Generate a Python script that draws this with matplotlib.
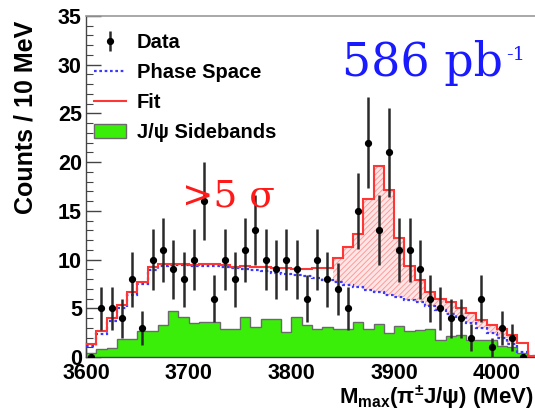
import numpy as np
import matplotlib
matplotlib.use("Agg")
import matplotlib.pyplot as plt
from matplotlib.patches import Patch
from matplotlib.lines import Line2D
from matplotlib.ticker import MultipleLocator

# ---- histogram contents (10 MeV bins starting at 3600 MeV) ----
bin_width = 10
data_counts = [0, 5, 5, 4, 8, 3, 10, 11, 9, 8,
               10, 16, 6, 10, 8, 11, 13, 10, 9, 10,
               9, 6, 10, 8, 7, 5, 15, 22, 13, 21,
               11, 11, 9, 6, 5, 4, 4, 2, 6, 1,
               3, 2, 0]
fit_curve = [1.3, 2.7, 4.0, 5.3, 6.7, 7.7, 9.2, 9.5, 9.5, 9.5,
             9.4, 9.5, 9.5, 9.4, 9.2, 9.3, 9.2, 9.2, 9.1, 9.1,
             9.0, 9.0, 9.1, 9.1, 10.2, 11.3, 12.6, 16.2, 19.6, 17.1,
             12.2, 9.3, 7.9, 6.7, 6.0, 5.6, 5.0, 4.5, 3.8, 3.3,
             2.9, 2.3, 1.4, 0.15]
phase_space = [1.1, 2.4, 3.7, 5.0, 6.4, 7.5, 8.9, 9.3, 9.4, 9.4,
               9.3, 9.3, 9.3, 9.2, 9.1, 9.0, 8.9, 8.8, 8.6, 8.5,
               8.4, 8.3, 8.1, 7.9, 7.7, 7.4, 7.2, 6.9, 6.7, 6.4,
               6.2, 5.9, 5.6, 5.2, 4.8, 4.4, 4.0, 3.5, 3.0, 2.5,
               2.0, 1.3, 0.5, 0.1]
sidebands = [0.4, 0.8, 0.9, 1.8, 1.8, 2.7, 2.7, 3.3, 4.7, 4.1,
             3.5, 3.6, 3.6, 2.9, 2.9, 4.1, 3.1, 3.9, 3.9, 2.6,
             4.1, 3.3, 2.9, 3.1, 2.9, 2.9, 3.6, 2.9, 3.4, 2.5,
             3.2, 2.7, 2.8, 2.9, 1.7, 2.2, 2.3, 1.7, 1.7, 1.7,
             1.1, 1.0, 0.4, 0.0]
signal_range = (3840, 4020)   # where the fit exceeds the phase-space shape

x_min, x_max = 3600, 4040
y_min, y_max = 0, 35
x_ticks = [3600, 3700, 3800, 3900, 4000]
y_ticks = [0, 5, 10, 15, 20, 25, 30, 35]

legend_labels = ["Data", "Phase Space", "Fit", "J/\u03c8 Sidebands"]
y_title = "Counts / 10 MeV"
x_title = "M$_{\\rm max}$(\u03c0$^{\\pm}$J/\u03c8) (MeV)"
lumi_base = "586 pb"
lumi_exp = "-1"
signif_text = ">5 \u03c3"

# ---- derived arrays ----
counts = np.array(data_counts, dtype=float)
centers = x_min + bin_width * (np.arange(len(counts)) + 0.5)
errors = np.sqrt(counts)
fit = np.array(fit_curve)
ps = np.array(phase_space)
sb = np.array(sidebands)
edges = x_min + bin_width * np.arange(len(fit) + 1)

plt.rcParams['mathtext.fontset'] = 'custom'
plt.rcParams['mathtext.rm'] = 'Liberation Sans:bold'
plt.rcParams['mathtext.it'] = 'Liberation Sans:bold'
plt.rcParams['mathtext.bf'] = 'Liberation Sans:bold'
plt.rcParams['hatch.linewidth'] = 0.7

W, H = 535, 413
fig = plt.figure(figsize=(W / 100, H / 100), dpi=100)
ax = fig.add_axes([86 / W, 1 - 357 / H, (538 - 86) / W, (357 - 16) / H])

# sideband histogram
ax.stairs(sb, edges, fill=True, facecolor='#3bee0a', edgecolor='#6a6a6a',
          linewidth=1.0, zorder=2)

# signal region between fit and phase space, hatched
i0 = int((signal_range[0] - x_min) / bin_width)
i1 = int((signal_range[1] - x_min) / bin_width)
ax.stairs(fit[i0:i1], edges[i0:i1 + 1], baseline=ps[i0:i1], fill=True,
          facecolor='#ffe6e6', edgecolor='#ff9a9a', linewidth=0,
          hatch='//////', zorder=3)

# phase space and fit lines
ax.stairs(ps, edges, color='#3a3aff', linestyle=(0, (1.2, 1.2)),
          linewidth=1.6, baseline=None, zorder=4)
ax.stairs(fit, edges, color='#ff3636', linewidth=1.5, baseline=None, zorder=5)

# data points
eb = ax.errorbar(centers, counts, yerr=errors, fmt='o', color='black',
                 ecolor='#2a2a2a', elinewidth=1.8, markersize=4.2,
                 capsize=0, zorder=6)

ax.set_xlim(x_min, x_max)
ax.set_ylim(y_min, y_max)
ax.set_xticks(x_ticks)
ax.set_yticks(y_ticks)
ax.xaxis.set_minor_locator(MultipleLocator(10))
ax.yaxis.set_minor_locator(MultipleLocator(1))
ax.tick_params(which='both', direction='in', top=False, right=False,
               color='#444444')
ax.tick_params(which='major', length=11, width=1.0)
ax.tick_params(which='minor', length=5, width=0.8)
ax.tick_params(axis='y', pad=3)
ax.tick_params(axis='x', pad=4)
for lab in ax.get_xticklabels() + ax.get_yticklabels():
    lab.set_fontfamily('Liberation Sans')
    lab.set_fontweight('bold')
    lab.set_fontsize(15.5)

for side in ['left', 'bottom']:
    ax.spines[side].set_color('#444444')
    ax.spines[side].set_linewidth(1.0)
ax.spines['top'].set_color('#9a9a9a')
ax.spines['top'].set_linewidth(1.2)
ax.spines['right'].set_visible(False)

# legend
handles = [
    eb,
    Line2D([], [], color='#3a3aff', linestyle=(0, (1.2, 1.2)), linewidth=1.6),
    Line2D([], [], color='#ff3636', linewidth=1.5),
    Patch(facecolor='#3bee0a', edgecolor='#6a6a6a', linewidth=1.0),
]
leg = ax.legend(handles, legend_labels, loc='upper left',
                bbox_to_anchor=(-0.01, 0.985), frameon=False,
                prop={'family': 'Liberation Sans', 'weight': 'bold', 'size': 14.5},
                handlelength=1.6, handletextpad=0.55, labelspacing=0.55,
                borderaxespad=0.2)

# axis titles
fig.text(26 / W, 1 - 117 / H, y_title, rotation=90, ha='center', va='center',
         fontfamily='Liberation Sans', fontweight='bold', fontsize=18)
fig.text(339 / W, 1 - 397 / H, x_title, ha='left', va='center',
         fontfamily='Liberation Sans', fontweight='bold', fontsize=16)

# annotations
lumi = fig.text(342 / W, 1 - 63 / H, lumi_base, ha='left', va='center',
                color='#1a1aff', fontfamily='DejaVu Serif', fontsize=33)
fig.canvas.draw()
bb = lumi.get_window_extent()
fig.text((bb.x1 + 3) / W, 1 - 55 / H, lumi_exp, ha='left', va='center',
         color='#1a1aff', fontfamily='DejaVu Serif', fontsize=14)
fig.text(182 / W, 1 - 196 / H, signif_text, ha='left', va='center',
         color='#ff1a1a', fontfamily='DejaVu Serif', fontsize=27)

fig.savefig('out.png', dpi=100)
